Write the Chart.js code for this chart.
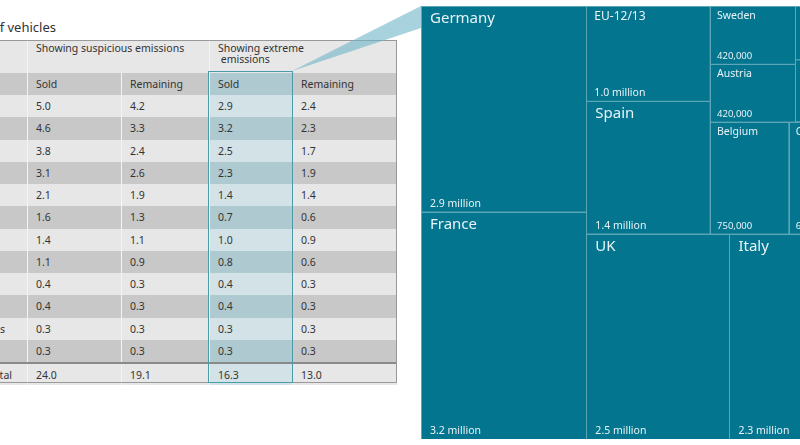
<!DOCTYPE html>
<html>
<head>
<meta charset="utf-8">
<script src="https://cdn.jsdelivr.net/npm/chart.js@4.4.0/dist/chart.umd.min.js"></script>
<style>
  html, body { margin: 0; padding: 0; width: 800px; height: 445px; overflow: hidden; background: #fff; }
  body { position: relative; font-family: "Noto Sans", "Open Sans", sans-serif; color: #333; }
  #title { position: absolute; top: 18px; right: 744px; white-space: nowrap; font-size: 13px; }
  #tbl { position: absolute; left: -75px; top: 40px; border-collapse: collapse; table-layout: fixed; font-size: 10.5px; }
  #tbl td { padding: 0 8px; border-left: 1px solid #f4f4f4; white-space: nowrap; overflow: hidden; }
  #tbl td.name { padding-left: 18px; }
  #tbl tr.h1 td { height: 30px; vertical-align: top; padding-top: 3px; line-height: 11px; background: #e7e7e7; }
  #tbl tr.h2 td { height: 22px; background: #c8c8c8; }
  #tbl tr.lt td { height: 22.25px; background: #e7e7e7; }
  #tbl tr.dk td { height: 22.25px; background: #c8c8c8; }
  #tbl tr.lt td.hl { background: #d3e2e6; }
  #tbl tr.dk td.hl, #tbl tr.h2 td.hl { background: #afc9d0; }
  #tbl tr.tot td { height: 21px; background: #e7e7e7; border-top: 2px solid #8a8a8a; }
  #tbl tr.tot td.hl { background: #d3e2e6; }
  #tbl tr.tot td.name { text-align: right; padding-right: 15px; }
  #frame { position: absolute; left: -76px; top: 40px; width: 471px; height: 341px; border: 1px solid #999; pointer-events: none; }
  #hlbox { position: absolute; left: 208px; top: 71px; width: 83px; height: 310px; border: 1.5px solid #4a9ba8; pointer-events: none; }
  #wedge { position: absolute; left: 0; top: 0; }
  #tm { position: absolute; left: 421px; top: 6px; }
</style>
</head>
<body>
<div id="title">Millions of vehicles</div>
<table id="tbl"></table>
<div id="frame"></div>
<div id="hlbox"></div>
<svg id="wedge" width="800" height="445"><polygon points="292,71 421,6 421,28" fill="rgba(110,180,198,0.6)"/></svg>
<canvas id="tm" width="440" height="433"></canvas>
<script>
// table data (millions of vehicles)
const rowNames = ["Germany", "France", "UK", "Italy", "Spain", "Other", "EU-12/13", "Belgium", "Sweden", "Austria", "Netherlands", "Portugal"];
const suspSold = [5.0, 4.6, 3.8, 3.1, 2.1, 1.6, 1.4, 1.1, 0.4, 0.4, 0.3, 0.3];
const suspRemaining = [4.2, 3.3, 2.4, 2.6, 1.9, 1.3, 1.1, 0.9, 0.3, 0.3, 0.3, 0.3];
const extSold = [2.9, 3.2, 2.5, 2.3, 1.4, 0.7, 1.0, 0.8, 0.4, 0.4, 0.3, 0.3];
const extRemaining = [2.4, 2.3, 1.7, 1.9, 1.4, 0.6, 0.9, 0.6, 0.3, 0.3, 0.3, 0.3];
const totals = [24.0, 19.1, 16.3, 13.0];

// treemap data: vehicles sold showing extreme emissions (millions)
const tmNames = ["Germany", "France", "UK", "Italy", "Spain", "EU-12/13", "Belgium", "Other", "Austria", "Sweden", "Netherlands", "Portugal"];
const tmValues = [2.9, 3.2, 2.5, 2.3, 1.4, 1.0, 0.75, 0.69, 0.42, 0.42, 0.35, 0.3];

// build table
const tbl = document.getElementById("tbl");
let html = '<colgroup><col style="width:102px"><col style="width:94px"><col style="width:88px"><col style="width:83px"><col style="width:104px"></colgroup>';
html += '<tr class="h1"><td></td><td colspan="2">Showing suspicious emissions</td><td colspan="2">Showing extreme<br>&nbsp;emissions</td></tr>';
html += '<tr class="h2"><td></td><td>Sold</td><td>Remaining</td><td class="hl">Sold</td><td>Remaining</td></tr>';
rowNames.forEach((n, i) => {
    html += '<tr class="' + (i % 2 ? "dk" : "lt") + '"><td class="name">' + n + '</td><td>' + suspSold[i].toFixed(1) +
        '</td><td>' + suspRemaining[i].toFixed(1) + '</td><td class="hl">' + extSold[i].toFixed(1) +
        '</td><td>' + extRemaining[i].toFixed(1) + '</td></tr>';
});
html += '<tr class="tot"><td class="name">Total</td><td>' + totals[0].toFixed(1) + '</td><td>' + totals[1].toFixed(1) +
    '</td><td class="hl">' + totals[2].toFixed(1) + '</td><td>' + totals[3].toFixed(1) + '</td></tr>';
tbl.innerHTML = html;

// squarified layout in value space
const canvas = document.getElementById("tm");
const total = tmValues.reduce((a, b) => a + b, 0);
const W = Math.sqrt(total * canvas.width / canvas.height);
const H = total / W;

function worst(row, side) {
    const s = row.reduce((a, b) => a + b.v, 0);
    const mx = Math.max(...row.map(r => r.v)), mn = Math.min(...row.map(r => r.v));
    return Math.max(side * side * mx / (s * s), s * s / (side * side * mn));
}

function squarify(items, rect) {
    const out = [];
    let rest = items.slice();
    while (rest.length) {
        const side = Math.min(rect.w, rect.h);
        let row = [rest[0]];
        let k = 1;
        while (k < rest.length && worst(row.concat([rest[k]]), side) <= worst(row, side)) {
            row.push(rest[k]);
            k++;
        }
        rest = rest.slice(k);
        const s = row.reduce((a, b) => a + b.v, 0);
        if (rect.w >= rect.h) {
            const sw = s / rect.h;
            let yy = rect.y;
            row.forEach(r => {
                const hh = r.v / sw;
                out.push({ ...r, x0: rect.x, x1: rect.x + sw, y0: yy, y1: yy + hh });
                yy += hh;
            });
            rect = { x: rect.x + sw, y: rect.y, w: rect.w - sw, h: rect.h };
        } else {
            const sh = s / rect.w;
            let xx = rect.x;
            row.forEach(r => {
                const ww = r.v / sh;
                out.push({ ...r, x0: xx, x1: xx + ww, y0: rect.y, y1: rect.y + sh });
                xx += ww;
            });
            rect = { x: rect.x, y: rect.y + sh, w: rect.w, h: rect.h - sh };
        }
    }
    return out;
}

const items = tmNames.map((n, i) => ({ name: n, v: tmValues[i] }))
    .sort((a, b) => b.v - a.v);
const cells = squarify(items, { x: 0, y: 0, w: W, h: H })
    .map(c => ({ ...c, x: (c.x0 + c.x1) / 2, y: (c.y0 + c.y1) / 2 }));

function fmtValue(v) {
    return v >= 1 ? v.toFixed(1) + " million" : Math.round(v * 1e6).toLocaleString("en-US");
}

const treemapCells = {
    id: "treemapCells",
    afterDatasetsDraw(chart) {
        const { ctx, scales: { x, y } } = chart;
        const data = chart.data.datasets[0].data;
        ctx.save();
        data.forEach(c => {
            const l = x.getPixelForValue(c.x0), r = x.getPixelForValue(c.x1);
            const t = y.getPixelForValue(c.y1), b = y.getPixelForValue(c.y0);
            ctx.fillStyle = "#04758f";
            ctx.fillRect(l, t, r - l, b - t);
            ctx.strokeStyle = "#5da6b8";
            ctx.lineWidth = 1;
            ctx.strokeRect(Math.round(l) + 0.5, Math.round(t) + 0.5, r - l, b - t);
        });
        data.forEach(c => {
            const l = x.getPixelForValue(c.x0);
            const t = y.getPixelForValue(c.y1), b = y.getPixelForValue(c.y0);
            const big = c.v >= 1.4, mid = c.v >= 1;
            const nameSize = big ? 15 : mid ? 12 : 10.5;
            const valSize = mid ? 10.5 : 9.5;
            const pad = big ? 9 : mid ? 8 : 7;
            ctx.fillStyle = "#e9f3f6";
            ctx.textBaseline = "top";
            ctx.font = nameSize + 'px "Noto Sans"';
            ctx.fillText(c.name, l + pad, t + 5);
            ctx.textBaseline = "alphabetic";
            ctx.font = valSize + 'px "Noto Sans"';
            ctx.fillText(fmtValue(c.v), l + pad, b - 5);
        });
        ctx.restore();
    }
};

new Chart(canvas, {
    type: "scatter",
    data: {
        datasets: [{ data: cells, pointRadius: 0, pointHoverRadius: 0 }]
    },
    options: {
        responsive: false,
        animation: false,
        layout: { padding: 0 },
        plugins: { legend: { display: false }, tooltip: { enabled: false } },
        scales: {
            x: { type: "linear", min: 0, max: W, display: false },
            y: { type: "linear", min: 0, max: H, display: false }
        }
    },
    plugins: [treemapCells]
});
</script>
</body>
</html>
